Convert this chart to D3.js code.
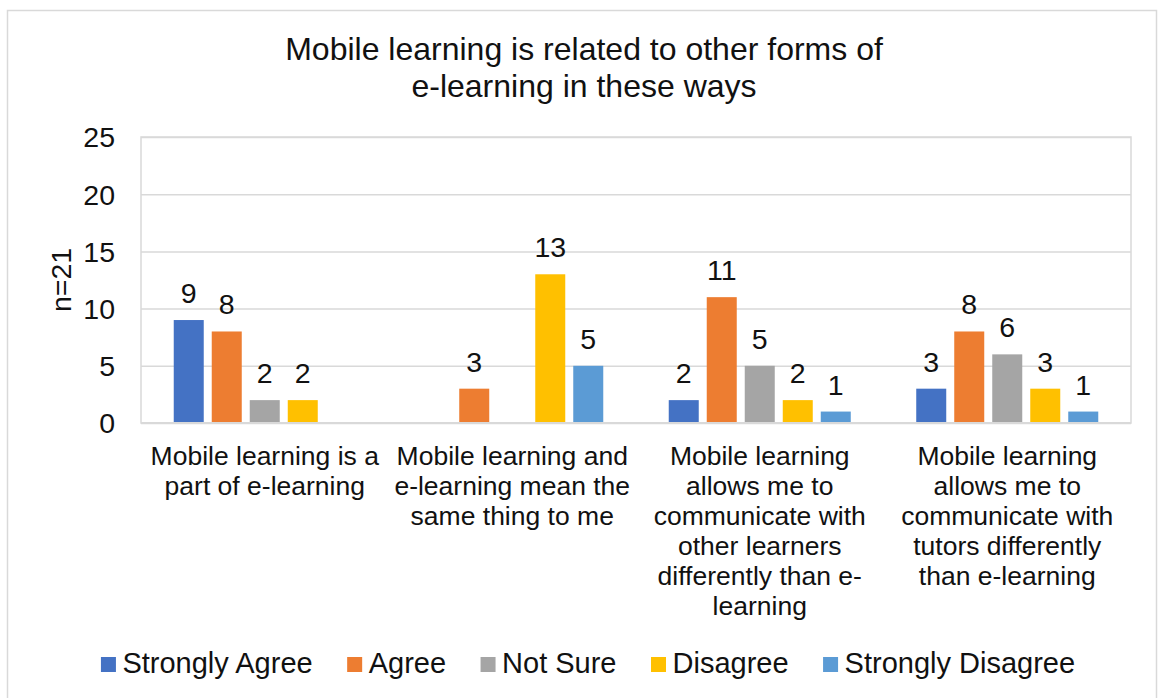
<!DOCTYPE html>
<html>
<head>
<meta charset="utf-8">
<script src="https://cdn.jsdelivr.net/npm/d3@7"></script>
<style>
  html, body { margin: 0; padding: 0; background: #fff; }
  svg { display: block; font-family: 'Liberation Sans', Arial, sans-serif; }
</style>
</head>
<body>
<svg id="chart" width="1160" height="698"></svg>
<script>
// Chart data
const titleLines = ['Mobile learning is related to other forms of', 'e-learning in these ways'];
const yLabel = 'n=21';
const categories = [
  ['Mobile learning is a', 'part of e-learning'],
  ['Mobile learning and', 'e-learning mean the', 'same thing to me'],
  ['Mobile learning', 'allows me to', 'communicate with', 'other learners', 'differently than e-', 'learning'],
  ['Mobile learning', 'allows me to', 'communicate with', 'tutors differently', 'than e-learning']
];
const series = ['Strongly Agree', 'Agree', 'Not Sure', 'Disagree', 'Strongly Disagree'];
const colors = ['#4472C4', '#ED7D31', '#A5A5A5', '#FFC000', '#5B9BD5'];
const stronglyAgree = [9, null, 2, 3];
const agree = [8, 3, 11, 8];
const notSure = [2, null, 5, 6];
const disagree = [2, 13, 2, 3];
const stronglyDisagree = [null, 5, 1, 1];
const yTicks = [0, 5, 10, 15, 20, 25];

const values = [stronglyAgree, agree, notSure, disagree, stronglyDisagree];

const svg = d3.select('#chart');
const grid = '#d9d9d9';
const ink = '#111';
const plot = { left: 141, right: 1131, top: 137, bottom: 423 };

// outer frame
svg
  .append('rect')
  .attr('x', 7.5)
  .attr('y', 10.5)
  .attr('width', 1149)
  .attr('height', 720)
  .attr('fill', '#fff')
  .attr('stroke', grid)
  .attr('stroke-width', 1.5);

const y = d3
  .scaleLinear()
  .domain([0, 25])
  .range([plot.bottom, plot.top]);

const x0 = d3
  .scaleBand()
  .domain(d3.range(categories.length))
  .range([plot.left, plot.right])
  .paddingInner(0.2323)
  .paddingOuter(0.11615);

const x1 = d3
  .scaleBand()
  .domain(d3.range(series.length))
  .range([0, x0.bandwidth()])
  .paddingInner(0.2105)
  .paddingOuter(0.105);

// title
svg
  .append('g')
  .attr('class', 'title')
  .selectAll('text')
  .data(titleLines)
  .enter()
  .append('text')
  .attr('x', 584)
  .attr('y', (d, i) => 60 + i * 37)
  .attr('text-anchor', 'middle')
  .attr('font-size', 32)
  .attr('fill', ink)
  .text(d => d);

// gridlines
const yAxisLines = svg
  .append('g')
  .attr('class', 'axis y axis-lines')
  .attr('transform', `translate(${plot.left}, 0)`)
  .call(d3.axisLeft(y).tickValues(yTicks).tickSize(-(plot.right - plot.left)).tickFormat(''));
yAxisLines.select('.domain').remove();
yAxisLines
  .selectAll('.tick line')
  .attr('stroke', grid)
  .attr('stroke-width', 1.5);

// plot area sides
svg
  .append('rect')
  .attr('x', plot.left)
  .attr('y', plot.top)
  .attr('width', plot.right - plot.left)
  .attr('height', plot.bottom - plot.top)
  .attr('fill', 'none')
  .attr('stroke', grid)
  .attr('stroke-width', 1.5);

// y tick labels
const yAxis = svg
  .append('g')
  .attr('class', 'axis y axis-left')
  .attr('transform', `translate(115, 0)`)
  .call(d3.axisLeft(y).tickValues(yTicks).tickSize(0).tickPadding(0));
yAxis.select('.domain').remove();
yAxis
  .selectAll('text')
  .attr('font-size', 28.5)
  .attr('font-family', null)
  .attr('fill', ink)
  .attr('x', 0)
  .attr('dy', '0.35em');

// y title
svg
  .append('text')
  .attr('transform', `translate(70.5, ${(plot.top + plot.bottom) / 2}) rotate(-90)`)
  .attr('text-anchor', 'middle')
  .attr('font-size', 28.5)
  .attr('fill', ink)
  .text(yLabel);

// bars
const flat = [];
values.forEach((arr, s) => {
  arr.forEach((v, c) => {
    if (v != null) flat.push({ s, c, v });
  });
});

const bars = svg.append('g').attr('class', 'bars');
bars
  .selectAll('rect')
  .data(flat)
  .enter()
  .append('rect')
  .attr('x', d => x0(d.c) + x1(d.s))
  .attr('y', d => y(d.v))
  .attr('width', x1.bandwidth())
  .attr('height', d => y(0) - y(d.v))
  .attr('fill', d => colors[d.s]);

// x axis line
svg
  .append('line')
  .attr('x1', plot.left)
  .attr('x2', plot.right)
  .attr('y1', plot.bottom)
  .attr('y2', plot.bottom)
  .attr('stroke', grid)
  .attr('stroke-width', 2);

// data labels
bars
  .selectAll('text')
  .data(flat)
  .enter()
  .append('text')
  .attr('x', d => x0(d.c) + x1(d.s) + x1.bandwidth() / 2)
  .attr('y', d => y(d.v) - 17)
  .attr('text-anchor', 'middle')
  .attr('font-size', 28.5)
  .attr('fill', ink)
  .text(d => d.v);

// category labels
const cat = svg
  .append('g')
  .attr('class', 'axis x')
  .selectAll('text')
  .data(categories)
  .enter()
  .append('text')
  .attr('text-anchor', 'middle')
  .attr('font-size', 26.5)
  .attr('fill', ink);
cat
  .selectAll('tspan')
  .data((d, i) => d.map(line => ({ line, i })))
  .enter()
  .append('tspan')
  .attr('x', d => x0(d.i) + x0.bandwidth() / 2)
  .attr('y', (d, j) => 465 + j * 30)
  .text(d => d.line);

// legend
const legend = svg.append('g').attr('class', 'legend');
const item = legend
  .selectAll('g.item')
  .data(series)
  .enter()
  .append('g')
  .attr('class', 'item');
item
  .append('rect')
  .attr('width', 15)
  .attr('height', 15)
  .attr('y', 657)
  .attr('fill', (d, i) => colors[i]);
item
  .append('text')
  .attr('x', 21.5)
  .attr('y', 673)
  .attr('font-size', 29)
  .attr('fill', ink)
  .text(d => d);

let offset = 0;
const offsets = [];
item.each(function() {
  offsets.push(offset);
  offset += 21.5 + d3.select(this).select('text').node().getComputedTextLength() + 34.5;
});
const total = offset - 34.5;
const start = 588 - total / 2;
item.attr('transform', (d, i) => `translate(${start + offsets[i]}, 0)`);
</script>
</body>
</html>
